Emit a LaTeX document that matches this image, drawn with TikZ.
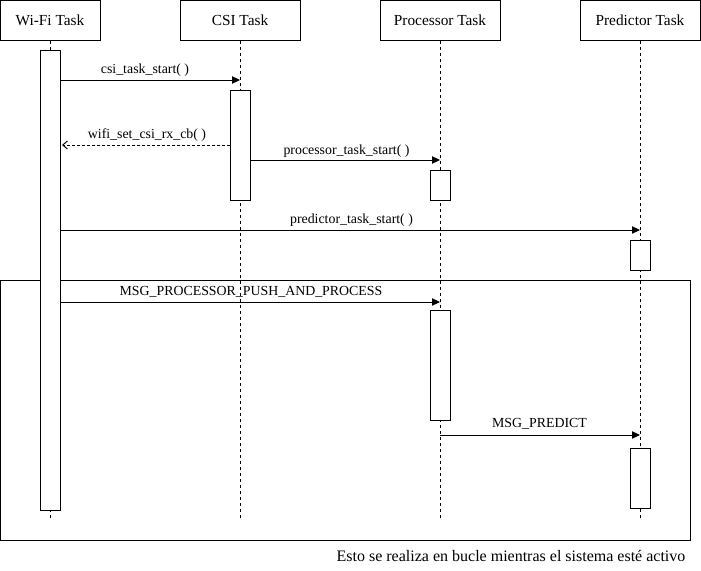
\documentclass[tikz,border=0pt]{standalone}
\usepackage{fontspec}
\setmainfont{Liberation Serif}
\usetikzlibrary{arrows.meta}
\begin{document}
\begin{tikzpicture}[x=0.75pt,y=-0.75pt, line width=0.75pt,
 head/.style={draw, minimum width=90pt, minimum height=30pt, inner sep=0, font=\fontsize{11.5}{13}\selectfont},
 act/.style={draw, fill=white, minimum width=15pt, inner sep=0},
 life/.style={dash pattern=on 2.25pt off 2.25pt},
 msg/.style={-{Triangle[length=6pt,width=5.5pt]}},
 ret/.style={dash pattern=on 2.25pt off 1.5pt, -{Straight Barb[length=3.5pt,width=6pt]}},
 lbl/.style={font=\fontsize{10.4}{12}\selectfont, inner sep=0, anchor=base}]
\useasboundingbox (0,0) rectangle (701,571);
% loop frame
\draw (0,280) rectangle (690,540);
% headers
\node[head, minimum width=75pt] (wifi) at (50,20) {Wi-Fi Task};
\node[head] (csi) at (240,20) {CSI Task};
\node[head] (proc) at (440,20) {Processor Task};
\node[head] (pred) at (640,20) {Predictor Task};
% lifeline ends
\coordinate (wifiE) at (50,518);
\coordinate (csiE) at (240,518);
\coordinate (procE) at (440,518);
\coordinate (predE) at (640,518);
\draw[life] (wifi.south) -- (wifiE);
\draw[life] (csi.south) -- (csiE);
\draw[life] (proc.south) -- (procE);
\draw[life] (pred.south) -- (predE);
% activations
\node[act, minimum height=345pt] (wa) at (50,280) {};
\node[act, minimum height=82.5pt] (ca) at (240,145) {};
\node[act, minimum height=22.5pt] (pa1) at (440,185) {};
\node[act, minimum height=22.5pt] (da1) at (640,255) {};
\node[act, minimum height=82.5pt] (pa2) at (440,365) {};
\node[act, minimum height=45pt] (da2) at (640,478) {};
% message end points
\coordinate (m1a) at (60,80);   \coordinate (m1b) at (240,80);
\coordinate (m2a) at (230,145); \coordinate (m2b) at (62,145);
\coordinate (m3a) at (250,160); \coordinate (m3b) at (440,160);
\coordinate (m4a) at (60,230);  \coordinate (m4b) at (640,230);
\coordinate (m5a) at (60,302);  \coordinate (m5b) at (440,302);
\coordinate (m6a) at (440,435); \coordinate (m6b) at (640,435);
\draw[msg] (m1a) -- (m1b);
\draw[ret] (m2a) -- (m2b);
\draw[msg] (m3a) -- (m3b);
\draw[msg] (m4a) -- (m4b);
\draw[msg] (m5a) -- (m5b);
\draw[msg] (m6a) -- (m6b);
% labels
\node[lbl] (l1) at (145,73) {csi\_task\_start( )};
\node[lbl] (l2) at (147,138) {wifi\_set\_csi\_rx\_cb( )};
\node[lbl] (l3) at (346.5,154) {processor\_task\_start( )};
\node[lbl] (l4) at (351.5,223) {predictor\_task\_start( )};
\node[lbl] (l5) at (251,295) {MSG\_PROCESSOR\_PUSH\_AND\_PROCESS};
\node[lbl] (l6) at (539.5,427) {MSG\_PREDICT};
\node[lbl, font=\fontsize{12}{14}\selectfont] (note) at (511,561) {Esto se realiza en bucle mientras el sistema esté activo};
\end{tikzpicture}
\end{document}
